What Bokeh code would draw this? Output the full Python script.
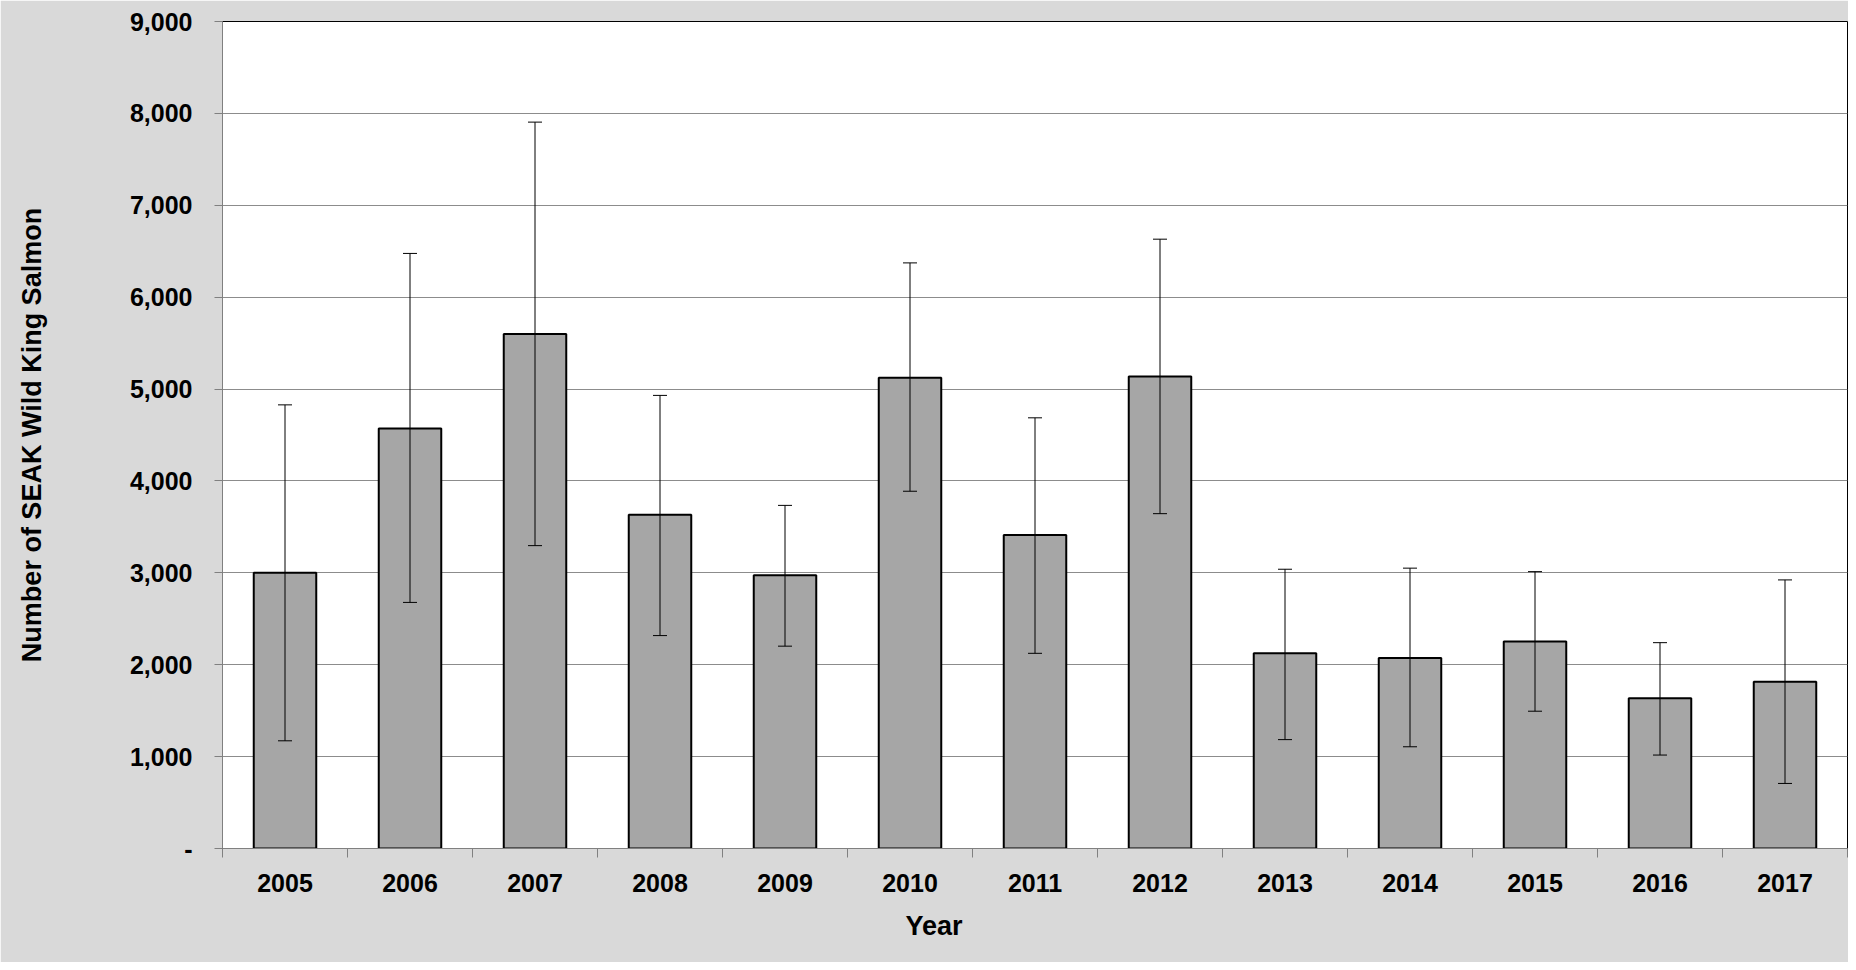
from bokeh.plotting import figure
from bokeh.models import FixedTicker, Whisker, ColumnDataSource, Range1d, Title
from bokeh.embed import file_html
from bokeh.resources import INLINE

years = ["2005","2006","2007","2008","2009","2010","2011","2012","2013","2014","2015","2016","2017"]
counts = [3000,4571,5600,3631,2974,5124,3412,5137,2124,2073,2253,1635,1815]
upper = [4828,6476,7905,4931,3734,6373,4687,6631,3039,3051,3013,2240,2923]
lower = [1172,2678,3296,2317,2202,3888,2124,3644,1185,1107,1494,1017,708]
yticks = [0,1000,2000,3000,4000,5000,6000,7000,8000,9000]
ylabels = ["-","1,000","2,000","3,000","4,000","5,000","6,000","7,000","8,000","9,000"]

xs = list(range(1, len(years)+1))
src = ColumnDataSource(dict(x=xs, c=counts, u=upper, l=lower))

p = figure(width=1848, height=962, output_backend="svg", toolbar_location=None,
           x_range=Range1d(0.5, len(years)+0.5), y_range=Range1d(0, 9000),
           min_border_left=222, min_border_right=1, min_border_top=21, min_border_bottom=114)
p.background_fill_color = "white"
p.border_fill_color = "#d9d9d9"
p.outline_line_color = "black"
p.outline_line_width = 1

p.vbar(x="x", top="c", width=0.5, source=src, fill_color="#a6a6a6", line_color="black", line_width=2)
w = Whisker(base="x", upper="u", lower="l", source=src, line_color="black", line_width=1, level="overlay")
w.upper_head.size = 14; w.lower_head.size = 14
w.upper_head.line_width = 1; w.lower_head.line_width = 1
p.add_layout(w)

p.xaxis.ticker = FixedTicker(ticks=xs, minor_ticks=[x+0.5 for x in range(0, len(years)+1)])
p.xaxis.major_label_overrides = {x: y for x, y in zip(xs, years)}
p.xaxis.major_tick_out = 0
p.xaxis.major_tick_in = 0
p.xaxis.minor_tick_out = 9
p.xaxis.minor_tick_in = 0
p.yaxis.ticker = FixedTicker(ticks=yticks)
p.yaxis.major_label_overrides = {t: l for t, l in zip(yticks, ylabels)}
p.yaxis.major_tick_out = 8
p.yaxis.major_tick_in = 0
p.yaxis.minor_tick_out = 0
p.yaxis.minor_tick_in = 0
for ax in (p.xaxis, p.yaxis):
    ax.axis_line_color = "#808080"
    ax.major_tick_line_color = "#808080"
    ax.minor_tick_line_color = "#808080"
    ax.major_label_text_font = "Liberation Sans"
    ax.major_label_text_font_style = "bold"
    ax.major_label_text_font_size = "25px"
    ax.major_label_text_color = "black"
    ax.axis_label_text_font = "Liberation Sans"
    ax.axis_label_text_font_style = "bold"
    ax.axis_label_text_font_size = "27px"
    ax.axis_label_text_color = "black"
p.yaxis.axis_label = "Number of SEAK Wild King Salmon"
p.xaxis.major_label_standoff = 16
p.yaxis.major_label_standoff = 22
p.yaxis.axis_label_standoff = 80
p.xgrid.grid_line_color = None
p.ygrid.grid_line_color = "#8c8c8c"
p.ygrid.grid_line_width = 1

p.add_layout(Title(text="Year", align="left", offset=683, standoff=28,
                   text_font="Liberation Sans", text_font_style="bold", text_font_size="27px",
                   text_color="black"), "below")

open("out.html", "w").write(file_html(p, INLINE))
